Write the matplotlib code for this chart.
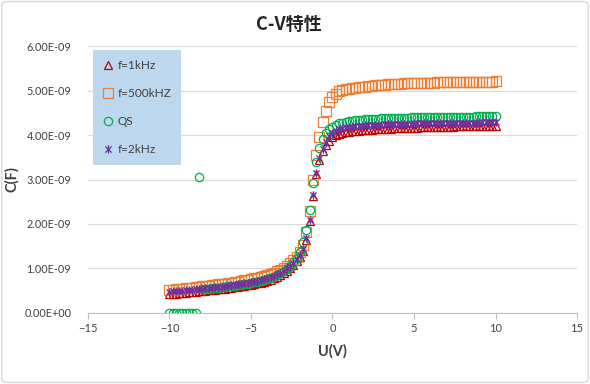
import numpy as np
import matplotlib
matplotlib.use("Agg")
import matplotlib.pyplot as plt
from matplotlib.ticker import FuncFormatter, MultipleLocator
from matplotlib.patches import FancyBboxPatch
from matplotlib.path import Path

# voltage sweep (V)
u = [-10.0, -9.8, -9.6, -9.4, -9.2, -9.0, -8.8, -8.6, -8.4, -8.2,
     -8.0, -7.8, -7.6, -7.4, -7.2, -7.0, -6.8, -6.6, -6.4, -6.2,
     -6.0, -5.8, -5.6, -5.4, -5.2, -5.0, -4.8, -4.6, -4.4, -4.2,
     -4.0, -3.8, -3.6, -3.4, -3.2, -3.0, -2.8, -2.6, -2.4, -2.2,
     -2.0, -1.8, -1.6, -1.4, -1.2, -1.0, -0.8, -0.6, -0.4, -0.2,
     0.0,
     0.2, 0.4, 0.6, 0.8, 1.0, 1.2, 1.4, 1.6, 1.8, 2.0,
     2.2, 2.4, 2.6, 2.8, 3.0, 3.2, 3.4, 3.6, 3.8, 4.0,
     4.2, 4.4, 4.6, 4.8, 5.0, 5.2, 5.4, 5.6, 5.8, 6.0,
     6.2, 6.4, 6.6, 6.8, 7.0, 7.2, 7.4, 7.6, 7.8, 8.0,
     8.2, 8.4, 8.6, 8.8, 9.0, 9.2, 9.4, 9.6, 9.8, 10.0]

# capacitance in nF
c_1khz = [0.425, 0.431, 0.437, 0.443, 0.449, 0.455, 0.462, 0.469, 0.476, 0.483,
          0.490, 0.498, 0.506, 0.514, 0.522, 0.530, 0.539, 0.548, 0.557, 0.566,
          0.575, 0.586, 0.597, 0.609, 0.622, 0.635, 0.650, 0.665, 0.682, 0.701,
          0.720, 0.745, 0.775, 0.810, 0.850, 0.895, 0.945, 1.005, 1.075, 1.160,
          1.265, 1.40, 1.64, 2.06, 2.64, 3.12, 3.44, 3.63, 3.77, 3.87,
          3.95,
          3.99, 4.02, 4.04, 4.06, 4.07, 4.08, 4.09, 4.10, 4.105, 4.11,
          4.115, 4.12, 4.125, 4.13, 4.135, 4.14, 4.143, 4.146, 4.149, 4.152,
          4.155, 4.158, 4.16, 4.162, 4.165, 4.167, 4.17, 4.172, 4.174, 4.176,
          4.178, 4.18, 4.182, 4.184, 4.186, 4.188, 4.19, 4.192, 4.194, 4.196,
          4.198, 4.20, 4.202, 4.204, 4.205, 4.206, 4.207, 4.208, 4.209, 4.21]

c_500khz = [0.52, 0.527, 0.534, 0.541, 0.548, 0.555, 0.563, 0.571, 0.579, 0.587,
            0.595, 0.604, 0.613, 0.622, 0.631, 0.641, 0.651, 0.661, 0.672, 0.683,
            0.694, 0.706, 0.718, 0.731, 0.745, 0.760, 0.776, 0.793, 0.811, 0.831,
            0.853, 0.878, 0.906, 0.938, 0.974, 1.015, 1.060, 1.115, 1.180, 1.260,
            1.36, 1.52, 1.82, 2.30, 3.00, 3.55, 3.96, 4.30, 4.55, 4.74,
            4.86,
            4.93, 4.98, 5.01, 5.03, 5.045, 5.055, 5.065, 5.07, 5.075, 5.085,
            5.095, 5.105, 5.115, 5.125, 5.13, 5.135, 5.14, 5.145, 5.15, 5.153,
            5.156, 5.159, 5.162, 5.165, 5.168, 5.17, 5.172, 5.174, 5.176, 5.178,
            5.18, 5.182, 5.184, 5.186, 5.188, 5.19, 5.191, 5.192, 5.193, 5.194,
            5.195, 5.196, 5.197, 5.198, 5.199, 5.20, 5.201, 5.202, 5.203, 5.204]

c_qs = [0.0, 0.0, 0.0, 0.0, 0.0, 0.0, 0.0, 0.0, 0.0, 3.05,
        0.530, 0.538, 0.546, 0.554, 0.562, 0.570, 0.579, 0.588, 0.597, 0.606,
        0.615, 0.626, 0.637, 0.649, 0.662, 0.675, 0.690, 0.705, 0.722, 0.741,
        0.760, 0.785, 0.815, 0.850, 0.890, 0.94, 0.995, 1.06, 1.14, 1.24,
        1.38, 1.60, 1.86, 2.32, 2.92, 3.39, 3.70, 3.90, 4.05, 4.13,
        4.19,
        4.23, 4.26, 4.28, 4.30, 4.31, 4.32, 4.33, 4.34, 4.345, 4.35,
        4.355, 4.36, 4.365, 4.37, 4.373, 4.376, 4.379, 4.382, 4.385, 4.387,
        4.389, 4.391, 4.393, 4.395, 4.397, 4.399, 4.40, 4.401, 4.402, 4.403,
        4.404, 4.405, 4.406, 4.407, 4.408, 4.409, 4.41, 4.411, 4.412, 4.413,
        4.414, 4.415, 4.416, 4.417, 4.418, 4.419, 4.42, 4.421, 4.422, 4.423]

c_2khz = [0.480, 0.486, 0.492, 0.498, 0.504, 0.510, 0.517, 0.524, 0.531, 0.538,
          0.545, 0.553, 0.561, 0.569, 0.577, 0.585, 0.594, 0.603, 0.612, 0.621,
          0.630, 0.641, 0.652, 0.664, 0.677, 0.690, 0.705, 0.720, 0.737, 0.756,
          0.775, 0.800, 0.830, 0.865, 0.905, 0.950, 1.000, 1.060, 1.130, 1.210,
          1.31, 1.44, 1.68, 2.08, 2.66, 3.14, 3.48, 3.68, 3.85, 3.97,
          4.05,
          4.10, 4.13, 4.15, 4.17, 4.18, 4.19, 4.20, 4.205, 4.21, 4.215,
          4.22, 4.225, 4.23, 4.233, 4.236, 4.239, 4.242, 4.244, 4.246, 4.248,
          4.25, 4.252, 4.254, 4.256, 4.258, 4.26, 4.261, 4.262, 4.264, 4.265,
          4.266, 4.267, 4.268, 4.27, 4.271, 4.272, 4.273, 4.274, 4.275, 4.276,
          4.277, 4.278, 4.279, 4.28, 4.281, 4.282, 4.283, 4.284, 4.285, 4.286]

labels = ["f=1kHz", "f=500kHZ", "QS", "f=2kHz"]

plt.rcParams['font.family'] = ['Lato', 'DejaVu Sans']

# excel-like star marker: an X with a vertical bar
star = Path([(0, -1), (0, 1), (-0.75, -0.75), (0.75, 0.75), (-0.75, 0.75), (0.75, -0.75)],
            [Path.MOVETO, Path.LINETO, Path.MOVETO, Path.LINETO, Path.MOVETO, Path.LINETO])

fig = plt.figure(figsize=(5.9, 3.84), dpi=100)
ax = fig.add_axes([0.149, 0.185, 0.829, 0.695])

# light rounded frame around the whole chart
fig.patches.append(FancyBboxPatch((0.003, 0.004), 0.994, 0.992, boxstyle="round,pad=0,rounding_size=0.01",
                                  transform=fig.transFigure, fill=False, edgecolor='#D9D9D9', lw=1))

x = np.array(u)
series = [
    (c_1khz, '^', '#C00000', 6.0),
    (c_500khz, 's', '#ED7D31', 7.5),
    (c_qs, 'o', '#00B050', 6.0),
    (c_2khz, star, '#7030A0', 6.0),
]
for (vals, mk, col, ms), lab in zip(series, labels):
    ax.plot(x, np.array(vals) * 1e-9, linestyle='none', marker=mk, markersize=ms,
            markerfacecolor='none', markeredgecolor=col, markeredgewidth=0.9, label=lab)

ax.set_xlim(-15, 15)
ax.set_ylim(0, 6e-9)
ax.xaxis.set_major_locator(MultipleLocator(5))
ax.yaxis.set_major_locator(MultipleLocator(1e-9))
ax.yaxis.set_major_formatter(FuncFormatter(lambda v, p: f"{v:.2E}"))

ax.grid(axis='y', color='#D9D9D9', lw=0.8)
ax.set_axisbelow(True)
for s in ['top', 'right', 'left']:
    ax.spines[s].set_visible(False)
ax.spines['bottom'].set_color('#BFBFBF')
ax.tick_params(axis='x', colors='#BFBFBF', length=4, labelcolor='#404040', labelsize=8)
ax.tick_params(axis='y', length=0, labelcolor='#404040', labelsize=7.8, pad=12)

ax.set_xlabel("U(V)", fontsize=10.5, fontweight='bold', color='#404040', labelpad=7)
ax.set_ylabel("C(F)", fontsize=10.5, fontweight='bold', color='#404040', labelpad=4)
fig.suptitle("C-V特性", x=0.49, y=0.96, fontsize=13, fontweight='bold', color='#262626',
             family=['Noto Sans CJK SC', 'DejaVu Sans'])

leg = ax.legend(loc='upper left', bbox_to_anchor=(0.158, 0.870), bbox_transform=fig.transFigure,
                frameon=True, fancybox=False, facecolor='#BDD7EE', edgecolor='none', framealpha=1,
                fontsize=8.5, labelspacing=1.45, handlelength=0.8, handletextpad=0.4,
                borderpad=0.85, borderaxespad=0)
for t in leg.get_texts():
    t.set_color('#404040')

fig.savefig("out.png", dpi=100)
